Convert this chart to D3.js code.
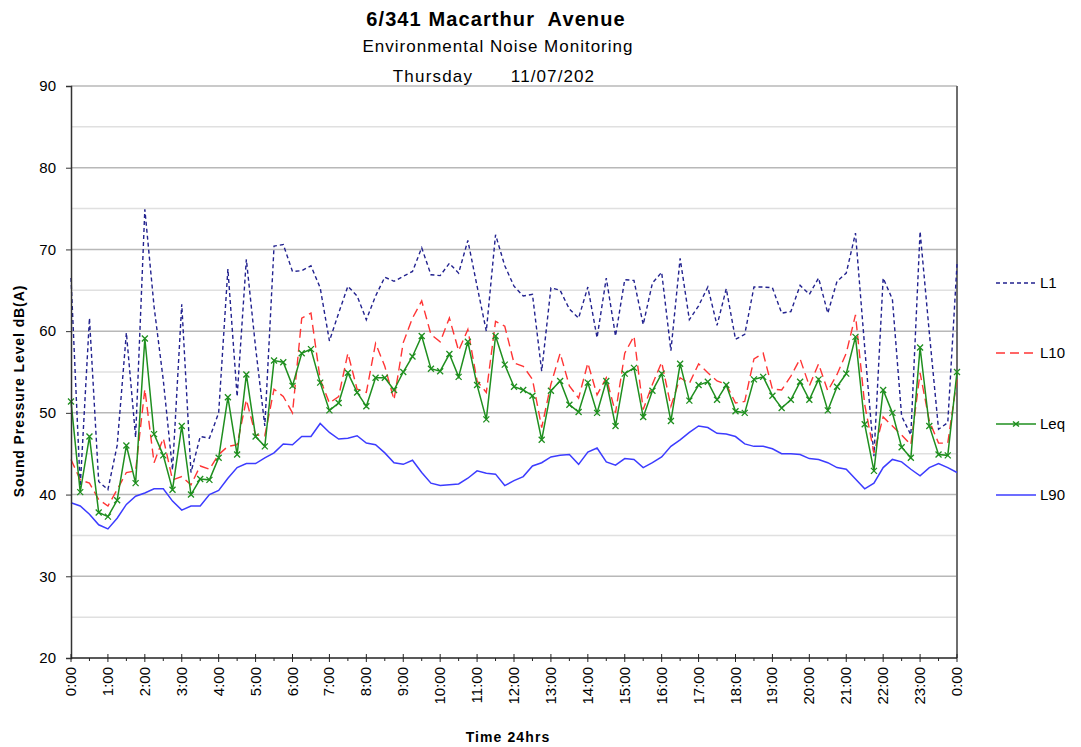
<!DOCTYPE html>
<html>
<head>
<meta charset="utf-8">
<script src="https://cdn.jsdelivr.net/npm/d3@7"></script>
<style>
  body { margin: 0; background: #fff; }
  text { font-family: Arial, "Liberation Sans", sans-serif; fill: #000; }
</style>
</head>
<body>
<div id="graph"></div>
<script>
// tick labels along the time axis (every hour)
const hourLabels = ["0:00","1:00","2:00","3:00","4:00","5:00","6:00","7:00","8:00","9:00","10:00","11:00",
  "12:00","13:00","14:00","15:00","16:00","17:00","18:00","19:00","20:00","21:00","22:00","23:00","0:00"];
const yTicks = [20, 30, 40, 50, 60, 70, 80, 90];

// 15 minute readings, 0:00 -> 24:00 (97 values)
const L1 = [66.5,41,61.6,41.6,40.6,46,59.8,47,74.9,63,54,43,63.3,42.7,47.1,46.9,
  50,67.6,52,68.8,58,48.4,70.4,70.6,67.3,67.4,68,65.3,58.8,62.2,65.5,64.3,
  61.4,64.3,66.6,66.1,66.7,67.3,70.2,66.9,66.8,68.3,67.1,71.1,65.5,60,71.8,68,
  65.5,64.3,64.5,55.1,65.3,65,62.7,61.6,65.4,59.2,66.5,59.4,66.3,66.2,60.8,65.9,
  67.2,57.6,68.9,61.4,63.1,65.4,60.7,65.2,59,59.6,65.4,65.4,65.3,62.2,62.4,65.6,
  64.5,66.5,62.2,66.1,67.1,72,58,44.7,66.5,63.9,49.6,47.3,72.2,59.8,48,48.8,68.2];
const L10 = [44.3,41.8,41.4,39.4,38.6,40.6,42.7,42.9,52.9,43.9,46.9,41.8,42.2,41.2,43.5,43.1,
  44.9,45.9,46.1,51.6,47.3,47.2,52.9,52,50,61.6,62.2,54.1,51.2,52,57.3,52.9,
  52.5,58.5,55.7,51.6,58.6,61.6,63.7,59.6,58.7,61.6,57.6,60.2,53.9,52.5,61.2,60.6,
  56.1,55.7,54.1,48.2,53.5,57.3,53.3,51.8,56.1,52.2,54.3,50,57.3,59.4,50.4,53.5,
  56.2,50.8,54.3,53.6,56,54.9,53.9,53.5,51.2,51.4,56.6,57.3,52.9,52.8,54.5,56.6,
  53.3,56,52.7,54.7,57.3,62,51,45.1,49.5,48.4,47.3,46.1,54.9,49,46.3,46.3,54.1];
const Leq = [51.4,40.3,47.1,37.8,37.3,39.3,46,41.4,59.1,47.4,44.8,40.6,48.4,40,41.9,41.8,
  44.5,51.9,44.9,54.7,47.1,45.9,56.4,56.2,53.3,57.3,57.8,53.7,50.3,51.2,54.9,52.5,
  50.8,54.3,54.3,52.8,55,56.9,59.4,55.4,55.1,57.2,54.4,58.7,53.4,49.2,59.4,55.9,
  53.2,52.8,52.1,46.7,52.7,53.9,51,50.1,53.7,50,53.9,48.4,54.8,55.5,49.5,52.7,
  54.8,49,56,51.5,53.4,53.8,51.6,53.4,50.2,50,54.1,54.4,52.1,50.6,51.6,53.8,
  51.6,54.1,50.3,53.2,54.8,59.3,48.6,42.9,52.8,50,45.8,44.5,58,48.4,44.9,44.8,55];
const L90 = [39,38.6,37.6,36.3,35.8,37.1,38.8,39.8,40.2,40.7,40.7,39.2,38.1,38.6,38.6,40,
  40.5,42,43.3,43.8,43.8,44.5,45.1,46.2,46.1,47.1,47.1,48.7,47.6,46.8,46.9,47.2,
  46.3,46.1,45.1,43.9,43.7,44.2,42.7,41.4,41.1,41.2,41.3,42,42.9,42.6,42.5,41.1,
  41.7,42.2,43.5,43.9,44.6,44.8,44.9,43.7,45.2,45.7,44,43.6,44.4,44.3,43.3,43.9,
  44.6,45.9,46.7,47.6,48.4,48.2,47.5,47.4,47.1,46.2,45.9,45.9,45.6,45,45,44.9,
  44.4,44.3,43.9,43.3,43.1,41.9,40.7,41.4,43.3,44.3,44,43.1,42.3,43.3,43.8,43.3,42.7];

const seriesList = [
  {name: "L1",  values: L1,  color: "#22228f", width: 1.4, dash: "4,3"},
  {name: "L10", values: L10, color: "#ff3535", width: 1.4, dash: "9,5"},
  {name: "Leq", values: Leq, color: "#1f8f1f", width: 1.5, dash: null, marker: true},
  {name: "L90", values: L90, color: "#3c3cff", width: 1.5, dash: null}
];

// set the dimensions and margins of the graph
const margin = {top: 86, right: 124, bottom: 89, left: 71},
    width = 1081 - margin.left - margin.right,
    height = 747 - margin.top - margin.bottom;

const root = d3.select("#graph")
  .append("svg")
    .attr("width", 1081)
    .attr("height", 747);

const svg = root.append("g")
    .attr("transform", `translate(${margin.left},${margin.top})`);

// scales: x in hours, y in dB(A)
const x = d3.scaleLinear().domain([0, 24]).range([0, width]);
const y = d3.scaleLinear().domain([20, 90]).range([height, 0]);

// minor grid (every 5) and major grid (every 10)
svg.append("g")
  .selectAll("line")
  .data(d3.range(25, 90, 10))
  .join("line")
    .attr("x1", 0).attr("x2", width)
    .attr("y1", d => y(d)).attr("y2", d => y(d))
    .attr("stroke", "#e0e0e0").attr("stroke-width", 1.5);

svg.append("g")
  .selectAll("line")
  .data(yTicks.slice(1))
  .join("line")
    .attr("x1", 0).attr("x2", width)
    .attr("y1", d => y(d)).attr("y2", d => y(d))
    .attr("stroke", "#b8b8b8").attr("stroke-width", 1.5);

// right border
svg.append("line")
  .attr("x1", width).attr("x2", width)
  .attr("y1", 0).attr("y2", height)
  .attr("stroke", "#6e6e6e").attr("stroke-width", 2);

// series lines
const line = d3.line()
  .x((d, i) => x(i / 4))
  .y(d => y(d));

seriesList.forEach(s => {
  svg.append("path")
    .datum(s.values)
    .attr("fill", "none")
    .attr("stroke", s.color)
    .attr("stroke-width", s.width)
    .attr("stroke-dasharray", s.dash)
    .attr("d", line);
});

// x markers on Leq
const m = 3;
svg.append("g")
  .selectAll("path")
  .data(Leq)
  .join("path")
    .attr("transform", (d, i) => `translate(${x(i / 4)},${y(d)})`)
    .attr("d", `M${-m},${-m}L${m},${m}M${-m},${m}L${m},${-m}`)
    .attr("stroke", "#1f8f1f")
    .attr("stroke-width", 1.3)
    .attr("fill", "none");

// Y axis
const yAxis = svg.append("g")
  .call(d3.axisLeft(y).tickValues(yTicks).tickSize(5).tickPadding(10));
yAxis.selectAll("text").style("font-size", "15px");
yAxis.select(".domain").attr("stroke", "#333").attr("stroke-width", 1.5);
yAxis.selectAll(".tick line").attr("stroke", "#333");

// X axis: hour ticks cross the axis, half-hour ticks below it
const xAxis = svg.append("g")
  .attr("transform", `translate(0,${height})`);
xAxis.append("line")
  .attr("x1", 0).attr("x2", width)
  .attr("stroke", "#222").attr("stroke-width", 1.5);
xAxis.selectAll(".hour")
  .data(hourLabels)
  .join("line")
    .attr("class", "hour")
    .attr("x1", (d, i) => x(i)).attr("x2", (d, i) => x(i))
    .attr("y1", -4).attr("y2", 4)
    .attr("stroke", "#222");
xAxis.selectAll(".half")
  .data(d3.range(0.5, 24, 1))
  .join("line")
    .attr("class", "half")
    .attr("x1", d => x(d)).attr("x2", d => x(d))
    .attr("y1", 0).attr("y2", 3)
    .attr("stroke", "#222");
xAxis.selectAll("text")
  .data(hourLabels)
  .join("text")
    .attr("transform", (d, i) => `translate(${x(i) + 5},${9}) rotate(-90)`)
    .attr("text-anchor", "end")
    .style("font-size", "15px")
    .text(d => d);

// axis titles
root.append("text")
  .attr("transform", "translate(24,391) rotate(-90)")
  .attr("text-anchor", "middle")
  .style("font-size", "14px")
  .style("font-weight", "bold")
  .style("letter-spacing", "0.9px")
  .text("Sound Pressure Level dB(A)");

root.append("text")
  .attr("x", 508).attr("y", 742)
  .attr("text-anchor", "middle")
  .style("font-size", "14px")
  .style("font-weight", "bold")
  .style("letter-spacing", "1.1px")
  .text("Time 24hrs");

// titles
root.append("text")
  .attr("x", 496).attr("y", 26)
  .attr("text-anchor", "middle")
  .style("font-size", "20px")
  .style("font-weight", "bold")
  .style("letter-spacing", "1.1px")
  .style("white-space", "pre")
  .text("6/341 Macarthur  Avenue");

root.append("text")
  .attr("x", 498).attr("y", 52)
  .attr("text-anchor", "middle")
  .style("font-size", "17px")
  .style("letter-spacing", "1px")
  .text("Environmental Noise Monitoring");

root.append("text")
  .attr("x", 433).attr("y", 82)
  .attr("text-anchor", "middle")
  .style("font-size", "17px")
  .style("letter-spacing", "1.2px")
  .text("Thursday");

root.append("text")
  .attr("x", 553).attr("y", 82)
  .attr("text-anchor", "middle")
  .style("font-size", "17px")
  .style("letter-spacing", "1.1px")
  .text("11/07/202");

// legend
const legend = root.append("g")
  .attr("transform", "translate(996,0)");
const legendY = [283, 353, 424, 495];
seriesList.forEach((s, i) => {
  const g = legend.append("g").attr("transform", `translate(0,${legendY[i]})`);
  g.append("line")
    .attr("x1", 0).attr("x2", 40)
    .attr("stroke", s.color)
    .attr("stroke-width", s.width)
    .attr("stroke-dasharray", s.dash);
  if (s.marker) {
    g.append("path")
      .attr("d", "M17,-2.5L23,2.5M17,2.5L23,-2.5")
      .attr("stroke", s.color).attr("stroke-width", 1.5);
  }
  g.append("text")
    .attr("x", 44).attr("y", 5)
    .style("font-size", "15px")
    .text(s.name);
});
</script>
</body>
</html>
